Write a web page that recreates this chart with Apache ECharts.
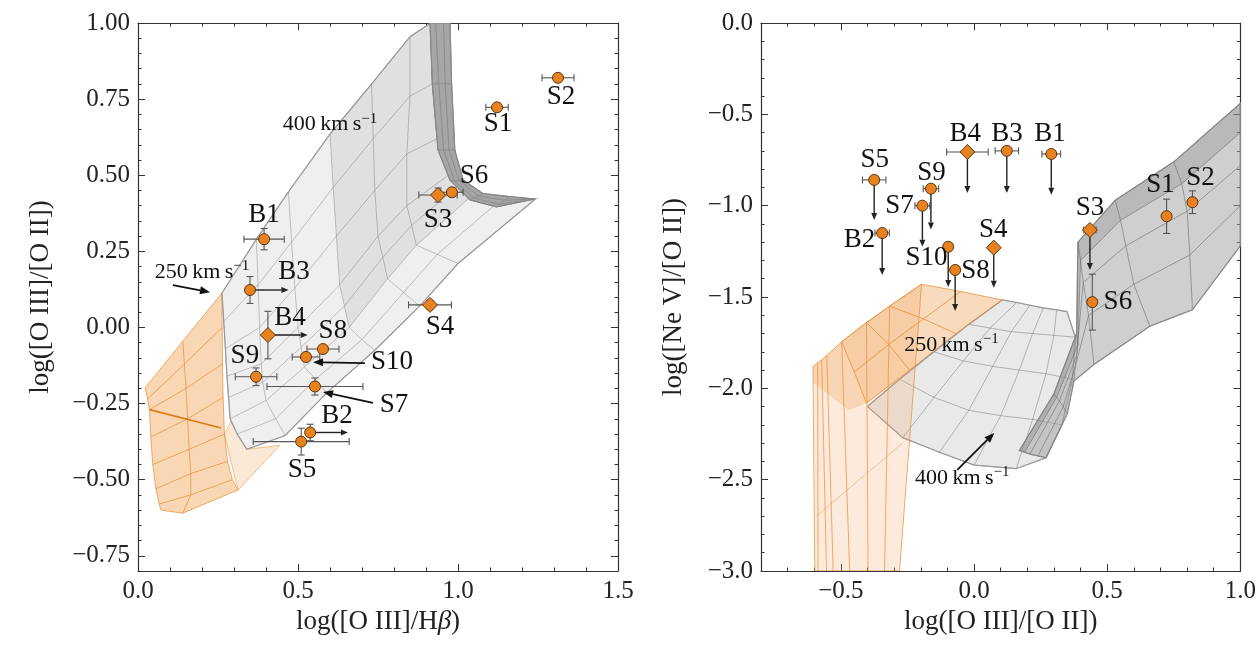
<!DOCTYPE html>
<html>
<head>
<meta charset="utf-8">
<script src="https://cdn.jsdelivr.net/npm/echarts@6/dist/echarts.min.js"></script>
<style>
html, body { margin: 0; background: #fff; }
#chart { width: 1259px; height: 646px; }
</style>
</head>
<body>
<div id="chart"></div>
<script>
// ---- measured line ratios ----
var names = ['S1', 'S2', 'S3', 'S4', 'S5', 'S6', 'S7', 'S8', 'S9', 'S10', 'B1', 'B2', 'B3', 'B4'];
var isDiamond = [0, 0, 1, 1, 0, 0, 0, 0, 0, 0, 0, 0, 0, 1];
var o3o2 = [0.723, 0.82, 0.435, 0.074, -0.375, 0.444, -0.194, -0.071, -0.162, -0.097, 0.29, -0.345, 0.123, -0.025];
var o3o2Err = [0, 0, 0.023, 0.015, 0.044, 0, 0.028, 0, 0.029, 0, 0.035, 0.027, 0.044, 0.078];
var o3hb = [1.122, 1.3125, 0.9375, 0.9125, 0.51, 0.981, 0.553, 0.578, 0.369, 0.525, 0.394, 0.538, 0.35, 0.406];
var o3hbErr = [0.035, 0.05, 0.06, 0.067, 0.15, 0.035, 0.15, 0.05, 0.065, 0.043, 0.063, 0, 0, 0];
var o3hbLowerTo = [null, null, null, null, null, null, null, null, null, null, null, 0.656, 0.47, 0.53];
var ne5o2 = [-1.058, -0.981, -1.133, -1.23, -0.859, -1.528, -1.0, -1.352, -0.907, -1.225, -0.717, -1.15, -0.70, -0.706];
var ne5o2Err = [0.094, 0.062, 0, 0, 0, 0.153, 0, 0, 0, 0, 0, 0, 0, 0];
var ne5o2UpperTo = [null, null, -1.352, -1.45, -1.078, null, -1.225, -1.576, -1.13, -1.445, -0.94, -1.38, -0.93, -0.93];

// label anchors (data coordinates)
var leftLabX = [1.125, 1.322, 0.9375, 0.944, 0.5125, 1.05, 0.8, 0.609, 0.334, 0.794, 0.394, 0.622, 0.4875, 0.475];
var leftLabY = [0.668, 0.757, 0.353, 0.001, -0.468, 0.497, -0.255, -0.012, -0.094, -0.114, 0.369, -0.291, 0.182, 0.031];
var rightLabX = [0.70, 0.85, 0.435, 0.072, -0.373, 0.54, -0.28, 0.005, -0.16, -0.179, 0.285, -0.43, 0.124, -0.033];
var rightLabY = [-0.887, -0.848, -1.013, -1.133, -0.75, -1.527, -1.0, -1.357, -0.821, -1.286, -0.608, -1.188, -0.608, -0.608];

var modelText = ['400', '250'];
var leftModelX = [0.6, 0.2], leftModelY = [0.668, 0.182];
var rightModelX = [-0.044, -0.085], rightModelY = [-2.49, -1.762];

var leftPointers = [[0.109, 0.139, 0.225, 0.116], [0.709, -0.117, 0.547, -0.114], [0.734, -0.248, 0.578, -0.212]];
var rightPointers = [[-0.063, -2.447, 0.076, -2.244]];

// ---- shock model grids (rows of [x, y] nodes) ----
var grayLeft = [
  [[0.2625, 0.113], [0.37, 0.29], [0.47, 0.445], [0.60, 0.635], [0.73, 0.80], [0.85, 0.955], [0.915, 1.0]],
  [[0.268, 0.02], [0.375, 0.14], [0.48, 0.28], [0.61, 0.46], [0.735, 0.62], [0.85, 0.76], [0.92, 0.80]],
  [[0.273, -0.07], [0.38, 0.0], [0.49, 0.13], [0.62, 0.30], [0.74, 0.45], [0.84, 0.57], [0.935, 0.62]],
  [[0.278, -0.16], [0.385, -0.12], [0.50, 0.0], [0.63, 0.14], [0.75, 0.30], [0.84, 0.40], [0.97, 0.50]],
  [[0.283, -0.23], [0.39, -0.18], [0.51, -0.065], [0.645, 0.07], [0.765, 0.23], [0.855, 0.335], [1.0, 0.465]],
  [[0.288, -0.30], [0.40, -0.24], [0.52, -0.13], [0.66, 0.0], [0.78, 0.16], [0.87, 0.27], [1.04, 0.43]],
  [[0.31, -0.35], [0.43, -0.30], [0.555, -0.17], [0.70, -0.04], [0.83, 0.115], [0.935, 0.24], [1.14, 0.425]],
  [[0.34, -0.40], [0.46, -0.355], [0.59, -0.215], [0.74, -0.075], [0.88, 0.07], [1.0, 0.21], [1.24, 0.42]]
];
var darkLeft = [
  [[0.9125, 1.0], [0.92, 0.80], [0.9375, 0.583], [0.975, 0.484], [1.0375, 0.419], [1.12, 0.396], [1.24, 0.422]],
  [[0.93, 1.0], [0.94, 0.80], [0.955, 0.583], [0.99, 0.48], [1.05, 0.425], [1.13, 0.405], [1.24, 0.422]],
  [[0.955, 1.0], [0.96, 0.80], [0.972, 0.583], [1.003, 0.483], [1.063, 0.432], [1.145, 0.418], [1.24, 0.422]],
  [[0.975, 1.0], [0.98, 0.80], [0.99, 0.583], [1.016, 0.484], [1.078, 0.44], [1.16, 0.43], [1.24, 0.422]]
];
var orangeLeft = [
  [[0.022, -0.199], [0.14, -0.045], [0.2625, 0.113]],
  [[0.03, -0.235], [0.145, -0.12], [0.263, 0.0]],
  [[0.036, -0.27], [0.15, -0.20], [0.264, -0.12]],
  [[0.04, -0.36], [0.155, -0.30], [0.266, -0.23]],
  [[0.046, -0.45], [0.16, -0.40], [0.27, -0.35]],
  [[0.056, -0.53], [0.165, -0.48], [0.28, -0.44]],
  [[0.066, -0.58], [0.165, -0.55], [0.295, -0.50]],
  [[0.072, -0.60], [0.14, -0.61], [0.3125, -0.534]]
];
var orangeLeftTail = [[0.27, -0.35], [0.3125, -0.534], [0.444, -0.387], [0.34, -0.40], [0.29, -0.31]];
var orangeLeftRidge = [[0.036, -0.27], [0.26, -0.33]];

var wallTop = [[-0.605, -1.88], [-0.587, -1.86], [-0.572, -1.845], [-0.553, -1.82], [-0.497, -1.745], [-0.404, -1.64], [-0.317, -1.55], [-0.197, -1.43]];
var wallBottom = [[-0.598, -3], [-0.586, -3], [-0.554, -3], [-0.529, -3], [-0.467, -3], [-0.398, -3], [-0.336, -3], [-0.28, -3]];
var roofRight = [
  [[-0.197, -1.43], [-0.05, -1.47], [0.106, -1.516]],
  [[-0.317, -1.55], [-0.19, -1.62], [-0.068, -1.70]],
  [[-0.404, -1.64], [-0.32, -1.76], [-0.242, -1.90]],
  [[-0.497, -1.745], [-0.45, -1.91], [-0.404, -2.08]]
];
var roofLeftPatch = [[-0.605, -1.88], [-0.497, -1.745], [-0.404, -2.08], [-0.47, -2.12], [-0.605, -1.97]];
var wallDiagonal = [[-0.269, -2.30], [-0.592, -2.70]];
var grayRight = [
  [[0.106, -1.516], [0.16, -1.53], [0.21, -1.545], [0.26, -1.56], [0.31, -1.57], [0.349, -1.58]],
  [[-0.02, -1.65], [0.06, -1.67], [0.14, -1.69], [0.22, -1.70], [0.30, -1.71], [0.38, -1.72]],
  [[-0.15, -1.80], [-0.04, -1.85], [0.07, -1.88], [0.17, -1.90], [0.27, -1.92], [0.37, -1.95]],
  [[-0.28, -1.95], [-0.15, -2.05], [-0.02, -2.12], [0.10, -2.15], [0.22, -2.17], [0.33, -2.20]],
  [[-0.40, -2.10], [-0.268, -2.27], [-0.13, -2.35], [0.0, -2.42], [0.158, -2.44], [0.27, -2.38]]
];
var darkRight = [
  [[0.17, -2.34], [0.30, -2.03], [0.385, -1.70], [0.39, -1.20], [0.53, -0.97], [0.75, -0.76], [1.0, -0.44]],
  [[0.19, -2.35], [0.31, -2.05], [0.39, -1.76], [0.40, -1.30], [0.55, -1.08], [0.78, -0.88], [1.0, -0.60]],
  [[0.21, -2.36], [0.32, -2.07], [0.385, -1.82], [0.41, -1.42], [0.57, -1.22], [0.80, -1.03], [1.0, -0.78]],
  [[0.24, -2.37], [0.335, -2.10], [0.38, -1.88], [0.43, -1.60], [0.60, -1.43], [0.81, -1.27], [1.0, -1.00]],
  [[0.27, -2.38], [0.35, -2.14], [0.375, -1.96], [0.45, -1.87], [0.66, -1.66], [0.82, -1.57], [1.0, -1.22]]
];

// ---- tick values ----
var leftXMajor = [0, 0.5, 1.0, 1.5];
var leftYMajor = [-0.75, -0.5, -0.25, 0, 0.25, 0.5, 0.75, 1.0];
var rightXMajor = [-0.5, 0, 0.5, 1.0];
var rightYMajor = [-3, -2.5, -2, -1.5, -1, -0.5, 0];

function minorTicks(min, max, step, major) {
  var out = [];
  for (var v = min; v <= max + 1e-9; v += step) {
    var r = Math.round(v * 1000) / 1000;
    if (major.indexOf(r) < 0) out.push(r);
  }
  return out;
}

var FONT = 'Liberation Serif';
var ORANGE = '#e8821f';

function fmt(dec) {
  return function (v) { return (v < 0 ? '\u2212' : '') + Math.abs(v).toFixed(dec); };
}

var nameRich = {
  it: { fontFamily: FONT, fontSize: 27, fontStyle: 'italic', color: '#222' }
};

function makeAxes(dim, gridIndex, min, max, major, minor, dec, name, nameGap) {
  var sides = dim === 'x' ? ['bottom', 'top'] : ['left', 'right'];
  var list = [];
  sides.forEach(function (pos, s) {
    list.push({
      type: 'value', gridIndex: gridIndex, position: pos, min: min, max: max,
      axisLine: { show: true, onZero: false, lineStyle: { color: '#333', width: 1.2 } },
      axisTick: { show: true, inside: true, length: 7, customValues: major, lineStyle: { color: '#333', width: 1 } },
      axisLabel: { show: s === 0, customValues: major, formatter: fmt(dec), fontFamily: FONT, fontSize: 25, color: '#222', margin: 8 },
      splitLine: { show: false },
      name: s === 0 ? name : '', nameLocation: 'middle', nameGap: nameGap,
      nameTextStyle: { fontFamily: FONT, fontSize: 27, color: '#222', rich: nameRich }
    });
    list.push({
      type: 'value', gridIndex: gridIndex, position: pos, min: min, max: max,
      axisLine: { show: false, onZero: false },
      axisTick: { show: true, inside: true, length: 3.5, customValues: minor, lineStyle: { color: '#333', width: 1 } },
      axisLabel: { show: false },
      splitLine: { show: false }
    });
  });
  return list;
}

function meshSeries(ax, mesh, opt) {
  return {
    type: 'custom', xAxisIndex: ax, yAxisIndex: ax, clip: true, silent: true, z: opt.z,
    data: [[0, 0]],
    renderItem: function (params, api) {
      var P = mesh.map(function (row) { return row.map(function (p) { return api.coord(p); }); });
      var nr = P.length, nc = P[0].length;
      function col(j) { return P.map(function (r) { return r[j]; }); }
      var outline = P[0].concat(col(nc - 1), P[nr - 1].slice().reverse(), col(0).reverse());
      var kids = [];
      if (opt.fill) kids.push({ type: 'polygon', shape: { points: outline }, style: { fill: opt.fill } });
      if (opt.line) {
        P.forEach(function (r) {
          kids.push({ type: 'polyline', shape: { points: r }, style: { fill: 'none', stroke: opt.line, lineWidth: opt.width || 1 } });
        });
        for (var j = 0; j < nc; j++) {
          kids.push({ type: 'polyline', shape: { points: col(j) }, style: { fill: 'none', stroke: opt.line, lineWidth: opt.width || 1 } });
        }
      }
      if (opt.edge) kids.push({ type: 'polygon', shape: { points: outline }, style: { fill: 'none', stroke: opt.edge, lineWidth: 1.2 } });
      return { type: 'group', children: kids };
    }
  };
}

function polySeries(ax, pts, opt) {
  return {
    type: 'custom', xAxisIndex: ax, yAxisIndex: ax, clip: true, silent: true, z: opt.z,
    data: [[0, 0]],
    renderItem: function (params, api) {
      var P = pts.map(function (p) { return api.coord(p); });
      if (opt.closed) return { type: 'polygon', shape: { points: P }, style: { fill: opt.fill || 'none', stroke: opt.stroke || 'none', lineWidth: opt.width || 1 } };
      return { type: 'polyline', shape: { points: P }, style: { fill: 'none', stroke: opt.stroke, lineWidth: opt.width || 1 } };
    }
  };
}

function errSeries(ax, xs, ys, exs, eys) {
  return {
    type: 'custom', xAxisIndex: ax, yAxisIndex: ax, silent: true, z: 8,
    data: xs.map(function (x, i) { return [x, ys[i], exs[i], eys[i]]; }),
    renderItem: function (params, api) {
      var x = api.value(0), y = api.value(1), ex = api.value(2), ey = api.value(3);
      var kids = [], cap = 3.5, st = { stroke: '#555', lineWidth: 1.1 };
      if (ex > 0) {
        var a = api.coord([x - ex, y]), b = api.coord([x + ex, y]);
        kids.push({ type: 'line', shape: { x1: a[0], y1: a[1], x2: b[0], y2: b[1] }, style: st });
        kids.push({ type: 'line', shape: { x1: a[0], y1: a[1] - cap, x2: a[0], y2: a[1] + cap }, style: st });
        kids.push({ type: 'line', shape: { x1: b[0], y1: b[1] - cap, x2: b[0], y2: b[1] + cap }, style: st });
      }
      if (ey > 0) {
        var c = api.coord([x, y - ey]), d = api.coord([x, y + ey]);
        kids.push({ type: 'line', shape: { x1: c[0], y1: c[1], x2: d[0], y2: d[1] }, style: st });
        kids.push({ type: 'line', shape: { x1: c[0] - cap, y1: c[1], x2: c[0] + cap, y2: c[1] }, style: st });
        kids.push({ type: 'line', shape: { x1: d[0] - cap, y1: d[1], x2: d[0] + cap, y2: d[1] }, style: st });
      }
      return { type: 'group', children: kids };
    }
  };
}

function arrowSeries(ax, segs, lw, headLen, headW, color) {
  return {
    type: 'custom', xAxisIndex: ax, yAxisIndex: ax, silent: true, z: 9,
    data: segs,
    renderItem: function (params, api) {
      var p = api.coord([api.value(0), api.value(1)]), q = api.coord([api.value(2), api.value(3)]);
      var dx = q[0] - p[0], dy = q[1] - p[1], L = Math.sqrt(dx * dx + dy * dy);
      var ux = dx / L, uy = dy / L;
      var bx = q[0] - ux * headLen, by = q[1] - uy * headLen;
      return {
        type: 'group', children: [
          { type: 'line', shape: { x1: p[0], y1: p[1], x2: bx, y2: by }, style: { stroke: color, lineWidth: lw } },
          { type: 'polygon', shape: { points: [q, [bx - uy * headW, by + ux * headW], [bx + uy * headW, by - ux * headW]] }, style: { fill: color } }
        ]
      };
    }
  };
}

function textSeries(ax, xs, ys, texts, size) {
  return {
    type: 'custom', xAxisIndex: ax, yAxisIndex: ax, silent: true, z: 11,
    data: xs.map(function (x, i) { return [x, ys[i]]; }),
    renderItem: function (params, api) {
      var p = api.coord([api.value(0), api.value(1)]);
      return {
        type: 'text', x: p[0], y: p[1],
        style: { text: texts[params.dataIndex], fontFamily: FONT, fontSize: size, fill: '#111', align: 'center', verticalAlign: 'middle' }
      };
    }
  };
}

function speedSeries(ax, xs, ys, texts) {
  return {
    type: 'custom', xAxisIndex: ax, yAxisIndex: ax, silent: true, z: 11,
    data: xs.map(function (x, i) { return [x, ys[i]]; }),
    renderItem: function (params, api) {
      var p = api.coord([api.value(0), api.value(1)]);
      return {
        type: 'text', x: p[0], y: p[1],
        style: {
          text: '{n|' + texts[params.dataIndex] + '\u2009km\u2009s}{s|\u22121}',
          align: 'center', verticalAlign: 'middle',
          rich: {
            n: { fontFamily: FONT, fontSize: 22, lineHeight: 26, fill: '#111' },
            s: { fontFamily: FONT, fontSize: 15, lineHeight: 15, verticalAlign: 'top', fill: '#111' }
          }
        }
      };
    }
  };
}

function pointSeries(ax, xs, ys) {
  return {
    type: 'scatter', xAxisIndex: ax, yAxisIndex: ax, silent: true, z: 10,
    data: xs.map(function (x, i) {
      return { value: [x, ys[i]], symbol: isDiamond[i] ? 'diamond' : 'circle', symbolSize: isDiamond[i] ? 15 : 11 };
    }),
    itemStyle: { color: ORANGE, borderColor: '#5b3512', borderWidth: 1, opacity: 1 }
  };
}

function drawShockDiagnostics() {
  var chart = echarts.init(document.getElementById('chart'));

  var leftLimits = [], rightLimits = [];
  names.forEach(function (n, i) {
    if (o3hbLowerTo[i] !== null) leftLimits.push([o3hb[i], o3o2[i], o3hbLowerTo[i], o3o2[i]]);
    if (ne5o2UpperTo[i] !== null) rightLimits.push([o3o2[i], ne5o2[i], o3o2[i], ne5o2UpperTo[i]]);
  });

  var option = {
    animation: false,
    backgroundColor: '#fff',
    grid: [
      { left: 138, top: 23, width: 480, height: 548 },
      { left: 761, top: 23, width: 481, height: 548 }
    ],
    xAxis: makeAxes('x', 0, 0, 1.5, leftXMajor, minorTicks(0, 1.5, 0.1, leftXMajor), 1,
        'log([O III]/H{it|\u03b2})', 29)
      .concat(makeAxes('x', 1, -0.8, 1.0, rightXMajor, minorTicks(-0.8, 1.0, 0.1, rightXMajor), 1,
        'log([O III]/[O II])', 29)),
    yAxis: makeAxes('y', 0, -0.8, 1.0, leftYMajor, minorTicks(-0.8, 1.0, 0.05, leftYMajor), 2,
        'log([O III]/[O II])', 84)
      .concat(makeAxes('y', 1, -3, 0, rightYMajor, minorTicks(-3, 0, 0.1, rightYMajor), 1,
        'log([Ne V]/[O II])', 74)),
    series: [
      // left panel models
      meshSeries(0, orangeLeft, { fill: 'rgba(238,150,60,0.38)', line: 'rgba(232,140,50,0.7)', z: 1 }),
      polySeries(0, orangeLeftTail, { closed: true, fill: 'rgba(240,165,90,0.25)', stroke: 'rgba(232,140,50,0.5)', z: 1 }),
      polySeries(0, orangeLeftRidge, { stroke: '#e07a1a', width: 1.6, z: 1 }),
      meshSeries(0, grayLeft, { fill: '#efefef', line: 'rgba(130,130,130,0.45)', edge: '#9a9a9a', z: 2 }),
      meshSeries(0, grayLeft.slice(0, 6).map(function (r) { return r.slice(3); }), { fill: 'rgba(0,0,0,0.06)', z: 2 }),
      meshSeries(0, darkLeft, { fill: '#a6a6a6', line: '#8c8c8c', edge: '#888', z: 3 }),
      // right panel models
      meshSeries(4, grayRight, { fill: 'rgba(228,228,228,0.8)', line: 'rgba(130,130,130,0.55)', edge: '#9a9a9a', z: 1 }),
      meshSeries(4, darkRight, { fill: 'rgba(160,160,160,0.5)', line: 'rgba(110,110,110,0.6)', edge: '#8a8a8a', z: 2 }),
      meshSeries(4, darkRight.slice(0, 2), { fill: 'rgba(100,100,100,0.2)', z: 2 }),
      meshSeries(4, [wallTop, wallBottom], { fill: 'rgba(240,165,95,0.22)', line: 'rgba(235,145,60,0.75)', z: 3 }),
      polySeries(4, roofLeftPatch, { closed: true, fill: 'rgba(236,148,62,0.25)', z: 3 }),
      meshSeries(4, roofRight, { fill: 'rgba(236,148,62,0.35)', line: 'rgba(232,140,50,0.75)', z: 3 }),
      polySeries(4, wallDiagonal, { stroke: 'rgba(232,150,70,0.5)', width: 1, z: 3 }),
      // data
      errSeries(0, o3hb, o3o2, o3hbErr, o3o2Err),
      errSeries(4, o3o2, ne5o2, o3o2Err, ne5o2Err),
      arrowSeries(0, leftLimits, 1.4, 7, 3, '#222'),
      arrowSeries(4, rightLimits, 1.4, 7, 3, '#222'),
      arrowSeries(0, leftPointers, 1.8, 10, 4, '#111'),
      arrowSeries(4, rightPointers, 1.8, 10, 4, '#111'),
      pointSeries(0, o3hb, o3o2),
      pointSeries(4, o3o2, ne5o2),
      textSeries(0, leftLabX, leftLabY, names, 27),
      textSeries(4, rightLabX, rightLabY, names, 27),
      speedSeries(0, leftModelX, leftModelY, modelText),
      speedSeries(4, rightModelX, rightModelY, modelText)
    ]
  };

  chart.setOption(option);
}

drawShockDiagnostics();
</script>
</body>
</html>
